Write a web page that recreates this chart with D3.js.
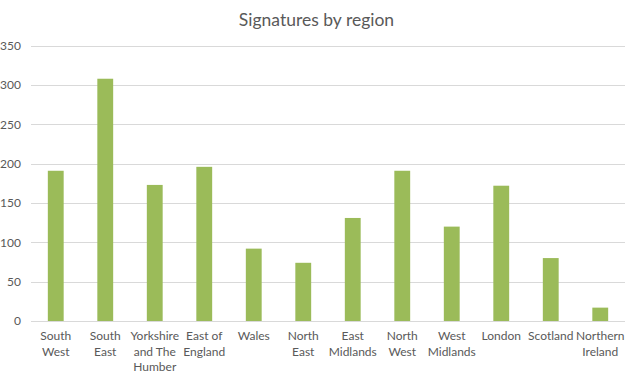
<!DOCTYPE html>
<html>
  <head>
    <script src="https://d3js.org/d3.v7.min.js"></script>
    <style>
      body { margin: 0; background: #fff; }
      text { font-family: Lato, "Open Sans", sans-serif; fill: #595959; }
    </style>
  </head>
  <body>
    <div id="chart"></div>
    <script>
      const regions = [
        ["South", "West"],
        ["South", "East"],
        ["Yorkshire", "and The", "Humber"],
        ["East of", "England"],
        ["Wales"],
        ["North", "East"],
        ["East", "Midlands"],
        ["North", "West"],
        ["West", "Midlands"],
        ["London"],
        ["Scotland"],
        ["Northern", "Ireland"],
      ];
      const signatures = [191, 308, 173, 196, 92, 74, 131, 191, 120, 172, 80, 17];
      const yTicks = [0, 50, 100, 150, 200, 250, 300, 350];

      const W = 638, H = 376;
      const plotLeft = 31, plotRight = 625, plotTop = 45.7, plotBottom = 321;

      const svg = d3.select("#chart").append("svg")
        .attr("width", W).attr("height", H);

      const x = d3.scaleBand()
        .domain(d3.range(regions.length))
        .range([plotLeft, plotRight])
        .paddingInner(0.68)
        .paddingOuter(0.34);

      const y = d3.scaleLinear().domain([0, 350]).range([plotBottom, plotTop]);

      // gridlines
      svg.append("g")
        .selectAll("line")
        .data(yTicks)
        .join("line")
        .attr("x1", plotLeft).attr("x2", plotRight)
        .attr("y1", d => Math.round(y(d)) + 0.5)
        .attr("y2", d => Math.round(y(d)) + 0.5)
        .attr("stroke", "#d9d9d9")
        .attr("stroke-width", 1);

      // y labels
      svg.append("g")
        .selectAll("text")
        .data(yTicks)
        .join("text")
        .attr("x", 21)
        .attr("y", d => y(d))
        .attr("dy", "0.35em")
        .attr("text-anchor", "end")
        .style("font-size", "12px")
        .text(d => d);

      // bars
      svg.append("g")
        .selectAll("rect")
        .data(signatures)
        .join("rect")
        .attr("x", (d, i) => x(i))
        .attr("width", x.bandwidth())
        .attr("y", d => y(d))
        .attr("height", d => y(0) - y(d))
        .attr("fill", "#9bbb59");

      // x labels
      const xl = svg.append("g")
        .selectAll("text")
        .data(regions)
        .join("text")
        .attr("text-anchor", "middle")
        .style("font-size", "12px")
        .attr("transform", (d, i) => `translate(${x(i) + x.bandwidth() / 2},340)`);
      xl.selectAll("tspan")
        .data(d => d)
        .join("tspan")
        .attr("x", 0)
        .attr("y", (d, i) => i * 15.5)
        .text(d => d);

      // title
      svg.append("text")
        .attr("x", 316.5)
        .attr("y", 26)
        .attr("text-anchor", "middle")
        .style("font-size", "17.5px")
        .text("Signatures by region");
    </script>
  </body>
</html>
